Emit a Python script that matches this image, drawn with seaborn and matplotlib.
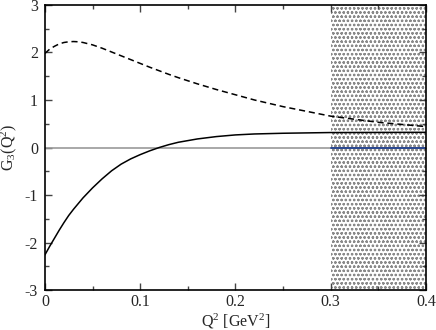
import matplotlib
matplotlib.use('Agg')
from matplotlib import pyplot as plt
from matplotlib.ticker import MultipleLocator
import pandas as pd
import seaborn as sns

# curve values
q2 = [0, 0.005, 0.01, 0.015, 0.02, 0.025, 0.03, 0.035, 0.04, 0.05, 0.06, 0.07, 0.08, 0.09,
      0.10, 0.11, 0.12, 0.13, 0.14, 0.16, 0.18, 0.20, 0.22, 0.25, 0.30, 0.35, 0.40]
g3_solid = [-2.26, -2.08, -1.91, -1.74, -1.58, -1.43, -1.30, -1.18, -1.06, -0.85, -0.66, -0.49,
            -0.35, -0.24, -0.15, -0.07, 0.0, 0.06, 0.11, 0.18, 0.23, 0.265, 0.285, 0.30, 0.315,
            0.318, 0.32]
g3_dashed = [1.98, 2.07, 2.13, 2.18, 2.21, 2.225, 2.23, 2.225, 2.21, 2.16, 2.09, 2.01,
             1.93, 1.85, 1.77, 1.69, 1.615, 1.54, 1.47, 1.34, 1.22, 1.11, 1.00, 0.86, 0.66,
             0.53, 0.44]
blue_q2 = [0.3, 0.4]
blue_g3 = [0, 0]
shade_from, shade_to = 0.3, 0.4

xticks = [0, 0.1, 0.2, 0.3, 0.4]
xtick_labels = ['0', '0.1', '0.2', '0.3', '0.4']
yticks = [-3, -2, -1, 0, 1, 2, 3]
ytick_labels = ['-3', '-2', '-1', '0', '1', '2', '3']

sns.set_style('ticks')
plt.rcParams['font.family'] = ['Liberation Serif', 'DejaVu Serif']
plt.rcParams['mathtext.fontset'] = 'custom'
plt.rcParams['mathtext.rm'] = 'Liberation Serif'
plt.rcParams['mathtext.it'] = 'Liberation Serif'
plt.rcParams['hatch.color'] = '#8a8a8a'
plt.rcParams['hatch.linewidth'] = 0.6

df = pd.DataFrame({'q2': q2, 'solid': g3_solid, 'dashed': g3_dashed})

fig = plt.figure(figsize=(4.36, 3.30), dpi=100)
ax = fig.add_axes([0.103, 0.121, 0.874, 0.864])

ax.axvspan(shade_from, shade_to, facecolor='white', edgecolor='#8a8a8a', hatch='oooo', lw=0, zorder=0)
ax.axhline(0, color='#999999', lw=1.2, zorder=1)
sns.lineplot(x=blue_q2, y=blue_g3, ax=ax, color='#1f3f8f', lw=1.3, zorder=2)
sns.lineplot(data=df, x='q2', y='solid', ax=ax, color='black', lw=1.1, zorder=3)
sns.lineplot(data=df, x='q2', y='dashed', ax=ax, color='black', lw=1.1, zorder=3)
ax.lines[-1].set_dashes((4, 2.5))

ax.set_xlim(0, 0.4)
ax.set_ylim(-3, 3)
ax.set_xticks(xticks, xtick_labels)
ax.set_yticks(yticks, ytick_labels)
ax.xaxis.set_minor_locator(MultipleLocator(0.05))
ax.yaxis.set_minor_locator(MultipleLocator(0.5))
ax.tick_params(which='both', direction='in', top=True, right=True, labelsize=11.5, width=1.0, color='#444444')
ax.tick_params(which='major', length=5)
ax.tick_params(axis='x', which='major', pad=3)
ax.tick_params(axis='y', which='major', pad=5)
ax.tick_params(which='minor', length=3)
for s in ax.spines.values():
    s.set_linewidth(1.2)
    s.set_color('black')

ax.set_xlabel('Q$^2$ [GeV$^2$]', fontsize=11.5, labelpad=1)
ax.set_ylabel('G$_3$(Q$^2$)', fontsize=11.5, labelpad=4)

fig.savefig('out.png', dpi=100)
